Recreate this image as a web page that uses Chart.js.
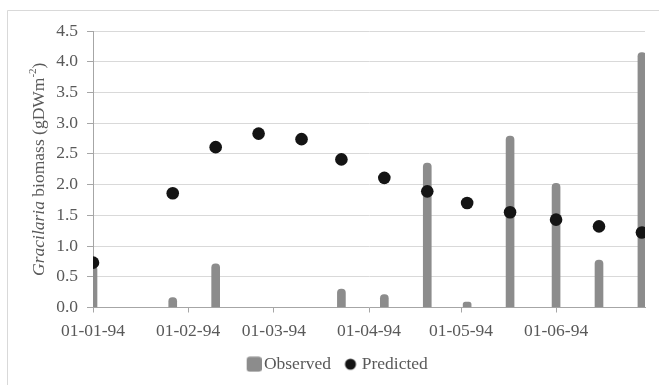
<!DOCTYPE html>
<html>
<head>
<meta charset="utf-8">
<script src="https://cdn.jsdelivr.net/npm/chart.js@4/dist/chart.umd.min.js"></script>
<style>
  html, body { margin: 0; padding: 0; background: #fff; }
  #wrap { position: relative; width: 659px; height: 385px; }
</style>
</head>
<body>
<div id="wrap"><canvas id="c" width="659" height="385"></canvas></div>
<script>
// Sampling days, counted from 01-01-94
const sampleDays = [0, 26, 40, 54, 68, 81, 95, 109, 122, 136, 151, 165, 179];
// Observed Gracilaria biomass (null = no sample)
const observed = [0.68, 0.16, 0.71, null, null, 0.30, 0.21, 2.35, 0.09, 2.79, 2.02, 0.77, 4.15];
// Model prediction
const predicted = [0.73, 1.86, 2.61, 2.83, 2.74, 2.41, 2.11, 1.89, 1.70, 1.55, 1.43, 1.32, 1.22];
// Month-start ticks on the date axis
const tickDays = [0, 31, 59, 90, 120, 151];
const tickLabels = ['01-01-94', '01-02-94', '01-03-94', '01-04-94', '01-05-94', '01-06-94'];
const yTicks = [0, 0.5, 1, 1.5, 2, 2.5, 3, 3.5, 4, 4.5];

const TEXT = '#595959';
const GRID = '#d9d9d9';
const AXIS = '#a6a6a6';
const BAR = '#8c8c8c';
const DOT = '#141414';
const FONT = "'Liberation Serif', 'Times New Roman', serif";

// Legend symbols: shape sits at the right of its little canvas so it hugs the label text
function legendSymbol(kind) {
  const c = document.createElement('canvas');
  c.width = 25; c.height = 16;
  const g = c.getContext('2d');
  if (kind === 'bar') {
    g.fillStyle = BAR;
    const x = 10, y = 0.5, w = 15, h = 15, r = 3;
    g.beginPath();
    g.moveTo(x + r, y); g.lineTo(x + w - r, y); g.quadraticCurveTo(x + w, y, x + w, y + r);
    g.lineTo(x + w, y + h - r); g.quadraticCurveTo(x + w, y + h, x + w - r, y + h);
    g.lineTo(x + r, y + h); g.quadraticCurveTo(x, y + h, x, y + h - r);
    g.lineTo(x, y + r); g.quadraticCurveTo(x, y, x + r, y);
    g.fill();
  } else {
    g.fillStyle = DOT;
    g.beginPath(); g.arc(16, 8, 5.5, 0, Math.PI * 2); g.fill();
  }
  return c;
}

const framePlugin = {
  id: 'frame',
  beforeDraw(chart) {
    const ctx = chart.ctx;
    ctx.save();
    ctx.fillStyle = '#fff';
    ctx.fillRect(0, 0, chart.width, chart.height);
    ctx.strokeStyle = GRID;
    ctx.lineWidth = 1;
    ctx.beginPath();
    ctx.moveTo(7.5, chart.height); ctx.lineTo(7.5, 10.5); ctx.lineTo(chart.width, 10.5);
    ctx.stroke();
    ctx.restore();
  }
};

// Vertical axis title with italic genus name and superscript unit
const yTitlePlugin = {
  id: 'yTitle',
  afterDraw(chart) {
    const ctx = chart.ctx;
    const area = chart.chartArea;
    const parts = [
      { t: 'Gracilaria', f: 'italic 17.5px ' + FONT, dy: 0 },
      { t: ' biomass (gDWm', f: '17.5px ' + FONT, dy: 0 },
      { t: '-2', f: '11px ' + FONT, dy: -6 },
      { t: ')', f: '17.5px ' + FONT, dy: 0 }
    ];
    ctx.save();
    let total = 0;
    parts.forEach(p => { ctx.font = p.f; p.w = ctx.measureText(p.t).width; total += p.w; });
    ctx.translate(39, (area.top + area.bottom) / 2);
    ctx.rotate(-Math.PI / 2);
    ctx.fillStyle = TEXT;
    ctx.textBaseline = 'middle';
    ctx.textAlign = 'left';
    let x = -total / 2;
    parts.forEach(p => { ctx.font = p.f; ctx.fillText(p.t, x, p.dy); x += p.w; });
    ctx.restore();
  }
};

const toPoints = vals => sampleDays.map((d, i) => ({ x: d, y: vals[i] }));

const symbols = [legendSymbol('bar'), legendSymbol('dot')];

new Chart(document.getElementById('c'), {
  type: 'bar',
  data: {
    datasets: [
      {
        label: 'Observed',
        data: toPoints(observed).filter(p => p.y !== null),
        backgroundColor: BAR,
        barThickness: 8,
        borderRadius: { topLeft: 4, topRight: 4, bottomLeft: 0, bottomRight: 0 },
        borderSkipped: false,
        order: 2
      },
      {
        type: 'line',
        label: 'Predicted',
        data: toPoints(predicted),
        showLine: false,
        pointRadius: 6.3,
        pointBackgroundColor: DOT,
        pointBorderWidth: 0,
        backgroundColor: DOT,
        borderColor: DOT,
        order: 1
      }
    ]
  },
  options: {
    responsive: false,
    animation: false,
    events: [],
    layout: { padding: { left: 26, right: 14, top: 31, bottom: 2 } },
    scales: {
      x: {
        type: 'linear',
        min: 0,
        max: 180,
        offset: false,
        afterBuildTicks(scale) { scale.ticks = tickDays.map(v => ({ value: v })); },
        afterFit(scale) { scale.height = 38; },
        ticks: {
          color: TEXT,
          font: { family: FONT, size: 17.5 },
          padding: 8,
          maxRotation: 0,
          autoSkip: false,
          callback: v => tickLabels[tickDays.indexOf(v)]
        },
        grid: { offset: false, drawOnChartArea: false, tickLength: 5, tickColor: AXIS },
        border: { color: AXIS, width: 1 }
      },
      y: {
        min: 0,
        max: 4.5,
        afterBuildTicks(scale) { scale.ticks = yTicks.map(v => ({ value: v })); },
        afterFit(scale) { scale.width = 67; },
        ticks: {
          color: TEXT,
          font: { family: FONT, size: 17.5 },
          padding: 9,
          callback: v => v.toFixed(1)
        },
        grid: { color: GRID, tickLength: 6, tickColor: AXIS },
        border: { color: AXIS, width: 1 }
      }
    },
    plugins: {
      tooltip: { enabled: false },
      legend: {
        position: 'bottom',
        labels: {
          usePointStyle: true,
          boxWidth: 12,
          boxHeight: 12,
          padding: 10,
          color: TEXT,
          font: { family: FONT, size: 17.5 },
          generateLabels(chart) {
            const items = Chart.defaults.plugins.legend.labels.generateLabels(chart);
            items.forEach(it => { it.pointStyle = symbols[it.datasetIndex]; });
            return items.sort((a, b) => a.datasetIndex - b.datasetIndex);
          }
        }
      }
    }
  },
  plugins: [framePlugin, yTitlePlugin]
});
</script>
</body>
</html>
